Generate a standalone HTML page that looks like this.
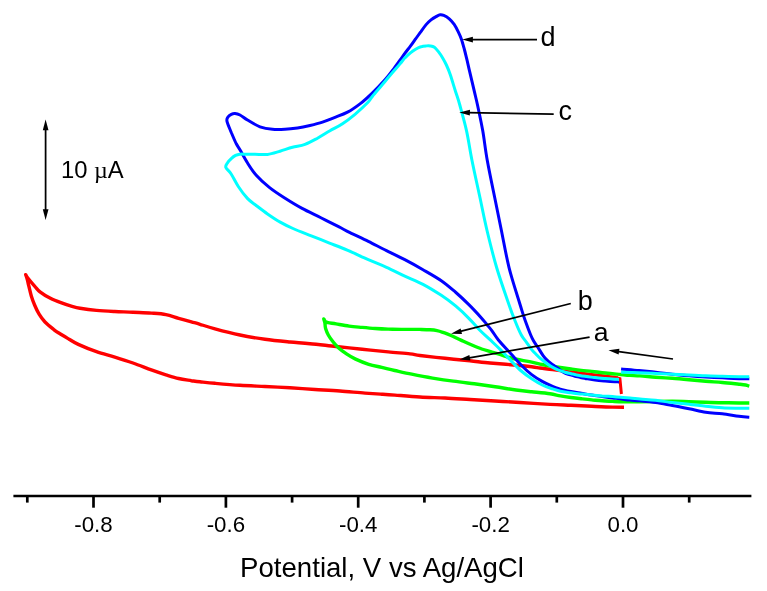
<!DOCTYPE html>
<html><head><meta charset="utf-8"><title>CV</title>
<style>
html,body{margin:0;padding:0;background:#fff;}
body{width:767px;height:591px;overflow:hidden;font-family:"Liberation Sans",sans-serif;}
svg{display:block;will-change:transform;}
svg text{font-family:"Liberation Sans",sans-serif;fill:#000;}
</style></head><body>
<svg width="767" height="591" viewBox="0 0 767 591">
<rect width="767" height="591" fill="#fff"/>
<path d="M624.0 407.2C622.1 407.2 618.0 407.2 612.6 407.1C607.2 407.0 598.7 406.6 591.7 406.3C584.8 406.0 577.9 405.6 570.9 405.3C563.9 405.0 558.5 404.9 550.0 404.4C541.5 403.9 529.2 403.1 520.0 402.5C510.8 401.9 503.3 401.5 495.0 401.0C486.7 400.5 478.3 400.0 470.0 399.5C461.7 399.0 453.3 398.4 445.0 398.0C436.7 397.6 428.3 397.5 420.0 397.0C411.7 396.5 401.4 395.6 395.0 395.1C388.6 394.6 386.8 394.5 381.8 394.2C376.8 393.9 372.0 393.6 365.0 393.1C358.0 392.6 348.3 391.6 340.0 391.0C331.7 390.4 323.3 390.0 315.0 389.5C306.7 389.0 298.3 388.3 290.0 387.8C281.7 387.3 273.3 386.9 265.0 386.5C256.7 386.1 248.3 385.8 240.0 385.3C231.7 384.8 221.7 383.9 215.0 383.3C208.3 382.7 203.9 382.2 200.0 381.8C196.1 381.4 195.0 381.2 191.4 380.7C187.8 380.1 182.8 379.5 178.6 378.5C174.3 377.5 170.4 376.2 165.9 374.8C161.4 373.4 156.8 371.9 151.3 369.9C145.8 367.9 139.1 365.1 133.0 363.0C126.9 360.9 120.9 359.0 114.8 357.1C108.7 355.2 102.6 353.8 96.5 351.7C90.4 349.6 82.9 346.5 78.3 344.4C73.7 342.3 72.1 341.0 69.1 339.2C66.0 337.4 62.5 335.4 60.0 333.8C57.5 332.2 56.6 331.8 54.1 329.8C51.6 327.8 47.5 324.6 45.0 322.0C42.5 319.4 40.8 317.0 39.1 314.2C37.4 311.4 35.9 308.1 34.6 305.0C33.3 301.9 32.3 299.1 31.3 295.9C30.3 292.6 29.4 288.2 28.7 285.5C28.0 282.8 27.8 281.3 27.3 279.5C26.8 277.7 26.0 275.5 25.7 274.7C26.0 275.2 26.1 275.9 27.6 277.8C29.1 279.7 32.5 283.8 34.6 286.1C36.7 288.4 37.4 289.8 40.0 291.8C42.6 293.8 46.9 296.5 50.4 298.3C53.9 300.1 57.4 301.4 60.9 302.7C64.4 304.0 68.1 305.3 71.3 306.2C74.5 307.1 75.8 307.6 80.0 308.3C84.2 309.0 90.7 309.9 96.5 310.4C102.3 310.9 108.7 311.2 114.8 311.5C120.9 311.8 126.9 311.9 133.0 312.2C139.1 312.5 145.8 312.7 151.3 313.1C156.8 313.5 161.4 313.7 165.9 314.6C170.4 315.5 174.3 317.1 178.6 318.3C182.8 319.5 187.8 320.9 191.4 321.9C195.0 322.9 196.1 323.1 200.0 324.3C203.9 325.5 208.3 327.0 215.0 328.8C221.7 330.6 231.7 333.2 240.0 335.0C248.3 336.8 256.7 338.1 265.0 339.3C273.3 340.5 282.5 341.3 290.0 342.0C297.5 342.7 302.3 342.9 310.0 343.7C317.7 344.4 327.4 345.6 336.1 346.5C344.8 347.4 353.5 348.4 362.2 349.3C370.9 350.2 380.2 351.1 388.2 351.9C396.2 352.7 404.7 353.3 410.0 353.9C415.3 354.5 414.2 354.8 420.0 355.5C425.8 356.2 436.7 357.4 445.0 358.3C453.3 359.2 462.5 360.0 470.0 360.8C477.5 361.6 483.2 362.4 490.0 363.0C496.8 363.6 503.9 364.1 510.9 364.7C517.9 365.3 526.9 366.2 531.7 366.8C536.6 367.4 536.5 367.5 540.0 368.0C543.5 368.5 547.5 368.9 552.6 369.6C557.8 370.3 564.4 371.2 570.9 372.0C577.4 372.8 584.8 373.7 591.7 374.6C598.7 375.5 608.2 376.7 612.6 377.3C617.0 377.9 616.9 377.9 617.8 378.0" stroke="#ff0000" stroke-width="3.4" fill="none" stroke-linejoin="round" stroke-miterlimit="6" stroke-linecap="butt"/>
<path d="M616.5 377.8 L619.9 378.6 L621.4 394" stroke="#ff0000" stroke-width="3.0" fill="none" stroke-linejoin="miter"/>
<path d="M749.3 403.0C747.6 403.0 743.5 403.1 739.0 403.0C734.5 402.9 727.8 402.8 722.3 402.7C716.8 402.6 711.2 402.4 705.7 402.2C700.2 402.0 694.6 401.8 689.0 401.7C683.4 401.6 680.5 401.3 672.3 401.3C664.1 401.3 648.2 401.6 640.0 401.7C631.8 401.8 627.6 401.9 623.0 401.8C618.4 401.8 616.1 401.6 612.6 401.4C609.1 401.2 605.7 401.1 602.2 400.8C598.7 400.6 595.2 400.2 591.7 399.9C588.2 399.6 584.8 399.2 581.3 398.8C577.8 398.4 574.4 398.0 570.9 397.5C567.4 397.0 563.9 396.5 560.4 395.9C556.9 395.3 554.8 394.5 550.0 393.8C545.2 393.1 537.4 392.4 531.7 391.8C526.0 391.2 522.1 390.8 516.0 390.0C509.9 389.2 502.1 387.8 495.2 386.8C488.2 385.8 481.3 384.8 474.3 383.8C467.3 382.9 460.3 382.1 453.4 381.1C446.4 380.2 439.6 379.2 432.6 378.1C425.7 377.0 418.0 375.5 411.7 374.2C405.4 372.9 399.7 371.6 394.7 370.5C389.7 369.4 386.0 368.4 381.7 367.4C377.4 366.4 373.0 365.7 368.7 364.3C364.4 362.9 359.3 360.8 355.6 359.1C351.9 357.4 349.3 355.8 346.5 353.9C343.7 352.0 341.0 350.1 338.7 348.0C336.4 345.9 334.5 343.7 332.8 341.5C331.1 339.3 329.5 337.2 328.3 335.0C327.1 332.8 326.2 330.5 325.6 328.5C325.0 326.5 325.2 324.6 324.9 323.0C324.6 321.4 324.0 319.7 323.8 319.0C324.1 319.4 324.6 321.0 325.3 321.6C326.0 322.2 326.2 322.2 328.0 322.6C329.8 323.0 332.6 323.3 336.1 323.9C339.6 324.5 344.8 325.5 349.1 326.1C353.5 326.7 357.9 327.0 362.2 327.4C366.5 327.8 370.9 328.2 375.2 328.5C379.5 328.8 383.8 329.0 388.2 329.1C392.6 329.2 397.7 329.3 401.3 329.4C404.9 329.4 406.9 329.4 410.0 329.4C413.1 329.4 416.7 329.3 420.0 329.4C423.3 329.5 427.2 329.6 430.0 329.8C432.8 330.0 434.8 330.2 437.0 330.6C439.2 331.0 440.8 331.6 443.0 332.4C445.2 333.2 447.4 333.9 450.4 335.2C453.4 336.5 457.4 338.5 460.9 340.1C464.4 341.7 467.8 343.3 471.3 344.8C474.8 346.3 478.2 347.8 481.7 349.0C485.2 350.2 488.7 351.1 492.2 352.2C495.7 353.2 499.5 354.3 502.6 355.3C505.7 356.3 507.8 357.2 510.9 358.0C514.0 358.8 517.8 359.5 521.3 360.2C524.8 360.9 528.2 361.4 531.7 362.1C535.2 362.8 538.7 363.8 542.2 364.5C545.7 365.2 549.6 365.8 552.6 366.3C555.6 366.8 557.4 367.1 560.4 367.5C563.4 367.9 567.4 368.5 570.9 369.0C574.4 369.5 577.8 370.0 581.3 370.4C584.8 370.8 588.2 371.0 591.7 371.4C595.2 371.8 598.7 372.3 602.2 372.7C605.7 373.1 609.5 373.5 612.6 373.8C615.7 374.1 618.0 374.2 620.9 374.5C623.8 374.8 626.8 375.2 630.0 375.4C633.2 375.6 635.7 375.6 640.0 375.9C644.3 376.2 650.3 376.8 655.7 377.2C661.1 377.6 666.8 377.9 672.3 378.3C677.8 378.7 683.4 379.2 689.0 379.7C694.6 380.2 700.2 380.7 705.7 381.2C711.2 381.7 716.8 382.0 722.3 382.5C727.8 383.0 735.1 383.8 739.0 384.2C742.9 384.6 744.0 384.7 745.7 385.0C747.4 385.3 748.7 386.0 749.3 386.2" stroke="#00ff00" stroke-width="3.4" fill="none" stroke-linejoin="round" stroke-miterlimit="6" stroke-linecap="butt"/>
<path d="M749.3 417.2C747.6 417.1 743.5 416.9 739.0 416.3C734.5 415.7 727.8 414.5 722.3 413.8C716.8 413.1 711.2 413.1 705.7 412.2C700.2 411.3 694.6 409.8 689.0 408.7C683.4 407.6 677.8 406.5 672.3 405.5C666.8 404.5 661.1 403.3 655.7 402.5C650.3 401.7 644.3 401.2 640.0 400.8C635.7 400.4 632.8 400.4 630.0 400.1C627.2 399.8 625.9 399.6 623.0 399.2C620.1 398.8 616.1 398.4 612.6 398.0C609.1 397.6 605.7 397.1 602.2 396.6C598.7 396.1 595.2 395.7 591.7 395.1C588.2 394.6 584.8 393.9 581.3 393.3C577.8 392.7 574.4 392.2 570.9 391.5C567.4 390.8 563.4 390.0 560.4 389.1C557.4 388.2 555.6 387.7 552.6 386.4C549.6 385.1 545.7 383.4 542.2 381.4C538.7 379.4 535.2 377.3 531.7 374.6C528.2 371.9 524.8 368.7 521.3 365.2C517.8 361.7 514.7 358.0 510.9 353.8C507.1 349.6 501.5 343.8 498.4 340.0C495.3 336.2 494.1 333.7 492.2 331.1C490.3 328.5 488.7 326.8 486.9 324.6C485.1 322.4 484.4 321.3 481.4 317.9C478.3 314.5 472.9 308.6 468.6 304.4C464.4 300.2 460.4 296.4 455.9 292.5C451.3 288.6 446.8 284.5 441.3 280.7C435.8 276.9 429.1 273.2 423.0 269.7C416.9 266.2 410.9 262.9 404.8 259.7C398.7 256.5 392.6 253.6 386.5 250.6C380.4 247.6 374.4 244.4 368.3 241.4C362.2 238.4 354.9 235.1 350.0 232.7C345.1 230.2 343.5 229.2 338.6 226.7C333.7 224.2 326.5 220.6 320.4 217.5C314.3 214.4 308.2 211.7 302.1 208.4C296.0 205.1 289.4 201.0 283.9 197.5C278.4 194.0 273.9 191.1 269.3 187.4C264.7 183.8 260.1 179.7 256.5 175.6C252.8 171.5 250.1 167.1 247.4 162.8C244.7 158.5 241.9 153.2 240.1 150.0C238.2 146.8 237.8 146.7 236.3 143.8C234.8 140.9 232.9 136.2 231.3 132.5C229.8 128.8 227.6 123.9 227.0 121.3C226.4 118.7 227.3 118.2 228.0 117.0C228.7 115.8 230.1 114.9 231.3 114.3C232.5 113.7 233.6 113.4 235.0 113.5C236.4 113.6 237.9 113.9 240.0 115.0C242.1 116.1 244.2 118.0 247.5 120.0C250.8 122.0 255.8 125.2 260.0 126.8C264.2 128.3 268.3 128.9 272.5 129.3C276.7 129.7 280.8 129.5 285.0 129.3C289.2 129.1 293.3 128.6 297.5 128.0C301.7 127.4 305.8 126.5 310.0 125.5C314.2 124.5 318.3 123.5 322.5 122.1C326.7 120.7 330.8 118.9 335.0 117.3C339.2 115.7 343.3 114.4 347.5 112.2C351.7 110.0 355.8 107.1 360.0 103.9C364.2 100.7 368.3 96.8 372.5 92.8C376.7 88.8 381.7 83.5 385.0 79.8C388.3 76.1 390.0 73.8 392.5 70.5C395.0 67.2 397.9 63.1 400.0 60.2C402.1 57.3 403.5 55.2 405.2 52.9C406.9 50.6 408.7 48.5 410.4 46.2C412.1 43.9 413.9 41.3 415.6 38.9C417.4 36.5 419.1 34.0 420.9 31.6C422.6 29.2 424.4 26.6 426.1 24.6C427.8 22.6 429.6 21.1 431.3 19.7C433.0 18.3 435.0 17.2 436.5 16.4C438.0 15.6 439.0 15.0 440.2 14.8C441.4 14.6 442.3 14.8 443.8 15.4C445.3 16.0 447.3 17.1 449.0 18.6C450.7 20.1 452.6 22.1 454.2 24.3C455.8 26.6 457.2 29.6 458.4 32.1C459.6 34.6 460.5 36.5 461.5 39.4C462.5 42.3 463.5 46.2 464.4 49.5C465.3 52.8 465.9 55.6 466.8 59.2C467.7 62.8 468.2 65.5 469.5 70.9C470.8 76.3 473.1 86.0 474.4 91.7C475.7 97.4 476.1 98.4 477.5 105.0C478.9 111.6 481.2 121.9 482.8 131.1C484.4 140.3 485.2 148.9 487.2 160.0C489.2 171.1 492.3 185.8 494.7 197.5C497.1 209.2 498.9 218.3 501.3 230.0C503.7 241.7 506.0 255.3 509.1 267.8C512.2 280.3 517.6 296.3 520.2 305.0C522.9 313.7 523.2 315.0 525.0 320.0C526.8 325.0 529.2 331.4 530.7 335.0C532.2 338.6 532.6 339.2 533.8 341.3C535.0 343.4 536.5 345.1 538.0 347.5C539.5 349.9 541.6 353.5 543.1 355.6C544.6 357.7 545.6 358.7 546.8 359.9C548.0 361.1 549.1 362.0 550.4 363.0C551.7 364.0 553.3 365.1 554.6 366.0C555.9 366.9 556.8 367.4 558.0 368.3C559.2 369.2 560.6 370.3 561.9 371.2C563.2 372.1 564.4 372.9 566.0 373.5C567.6 374.1 569.8 374.7 571.3 375.1C572.8 375.6 573.5 375.8 575.0 376.2C576.5 376.6 578.3 376.9 580.0 377.3C581.7 377.7 582.5 377.9 585.0 378.4C587.5 378.8 591.7 379.6 595.0 380.0C598.3 380.4 601.7 380.7 605.0 381.0C608.3 381.3 612.7 381.6 615.0 381.7C617.3 381.8 618.3 381.9 619.0 381.9" stroke="#0000ff" stroke-width="3.0" fill="none" stroke-linejoin="round" stroke-miterlimit="6" stroke-linecap="butt"/>
<path d="M621.1 368.9C624.1 369.2 633.2 369.9 639.0 370.5C644.8 371.1 650.2 371.6 655.7 372.2C661.2 372.8 666.8 373.6 672.3 374.2C677.8 374.8 683.4 375.3 689.0 375.8C694.6 376.3 700.2 376.7 705.7 377.0C711.2 377.3 716.8 377.5 722.3 377.8C727.8 378.1 734.5 378.5 739.0 378.7C743.5 378.9 747.6 378.8 749.3 378.8" stroke="#0000ff" stroke-width="3.0" fill="none" stroke-linejoin="round" stroke-linecap="butt"/>
<path d="M749.3 408.3C747.6 408.3 743.5 408.4 739.0 408.3C734.5 408.2 727.8 408.2 722.3 407.8C716.8 407.4 711.2 406.8 705.7 406.2C700.2 405.6 694.6 404.8 689.0 404.2C683.4 403.6 677.8 403.1 672.3 402.5C666.8 401.9 661.1 400.9 655.7 400.3C650.3 399.7 644.3 399.4 640.0 399.0C635.7 398.6 632.8 398.2 630.0 398.0C627.2 397.8 625.9 397.7 623.0 397.5C620.1 397.3 616.1 396.9 612.6 396.6C609.1 396.3 605.7 396.1 602.2 395.9C598.7 395.6 595.2 395.4 591.7 395.1C588.2 394.8 584.8 394.4 581.3 394.0C577.8 393.6 574.4 393.3 570.9 392.8C567.4 392.3 563.4 391.9 560.4 391.2C557.4 390.5 555.6 389.9 552.6 388.9C549.6 387.9 545.7 386.7 542.2 385.0C538.7 383.3 535.2 381.1 531.7 378.8C528.2 376.5 524.8 374.0 521.3 371.0C517.8 368.0 514.4 364.2 510.9 360.6C507.4 357.0 503.9 353.1 500.4 349.6C496.9 346.1 493.5 343.0 490.0 339.7C486.5 336.4 483.2 333.6 479.6 330.0C476.0 326.4 472.6 322.1 468.6 318.1C464.7 314.1 460.4 310.0 455.9 306.2C451.3 302.4 446.8 298.9 441.3 295.3C435.8 291.7 429.1 287.5 423.0 284.3C416.9 281.1 410.9 278.9 404.8 276.1C398.7 273.3 392.6 270.0 386.5 267.3C380.4 264.6 374.8 262.5 368.3 259.7C361.9 256.9 354.3 253.2 347.8 250.4C341.3 247.6 335.6 245.5 329.5 243.1C323.4 240.7 317.4 238.2 311.3 235.8C305.2 233.4 298.2 230.8 293.0 228.5C287.8 226.2 284.4 224.5 280.2 222.1C275.9 219.7 271.4 216.6 267.5 213.9C263.6 211.2 259.9 208.3 256.5 205.7C253.2 203.1 250.4 201.6 247.4 198.4C244.4 195.2 241.0 190.6 238.3 186.5C235.6 182.4 233.1 176.9 231.0 173.7C228.9 170.5 226.3 169.2 225.8 167.3C225.3 165.4 226.9 163.9 227.8 162.4C228.8 160.9 230.2 159.5 231.5 158.3C232.8 157.1 234.2 156.1 235.6 155.4C237.0 154.7 238.1 154.4 239.8 154.2C241.6 154.0 243.6 154.2 246.1 154.2C248.6 154.2 251.4 154.3 255.0 154.3C258.6 154.3 263.3 154.9 267.5 154.4C271.7 153.9 275.8 152.4 280.0 151.2C284.2 150.0 288.3 148.4 292.5 147.3C296.7 146.2 300.8 145.9 305.0 144.4C309.2 142.9 313.3 140.5 317.5 138.2C321.7 135.9 325.8 133.2 330.0 130.8C334.2 128.4 338.3 126.5 342.5 123.7C346.7 121.0 350.8 117.8 355.0 114.3C359.2 110.8 364.6 105.8 367.5 102.8C370.4 99.8 369.6 99.8 372.5 96.2C375.4 92.7 381.7 85.5 385.0 81.5C388.3 77.5 390.0 75.4 392.5 72.5C395.0 69.6 397.9 66.4 400.0 63.9C402.1 61.4 403.5 59.5 405.2 57.6C406.9 55.8 408.7 54.2 410.4 52.8C412.1 51.4 413.9 50.2 415.6 49.2C417.4 48.2 419.1 47.3 420.9 46.8C422.6 46.2 424.6 46.0 426.1 45.9C427.7 45.8 428.8 45.7 430.2 45.9C431.6 46.1 433.0 46.2 434.4 47.2C435.8 48.2 437.2 50.1 438.6 51.9C440.0 53.7 441.5 56.0 442.8 58.2C444.1 60.4 445.1 62.2 446.4 65.0C447.7 67.8 448.9 70.5 450.4 75.0C451.9 79.5 454.0 86.7 455.6 91.7C457.2 96.7 458.0 98.4 459.8 105.0C461.6 111.6 464.6 121.9 466.6 131.1C468.6 140.3 469.7 148.9 471.9 160.0C474.1 171.1 477.5 186.1 480.0 197.8C482.5 209.5 484.1 218.3 486.9 230.0C489.7 241.7 493.0 255.3 496.7 267.8C500.4 280.3 506.1 296.3 509.1 305.0C512.1 313.7 512.7 315.0 514.7 320.0C516.7 325.0 519.3 331.3 521.3 335.0C523.3 338.7 524.8 339.9 526.5 342.3C528.2 344.7 530.1 347.6 531.7 349.6C533.3 351.6 534.9 353.1 536.3 354.5C537.7 355.9 538.5 356.8 540.0 358.1C541.5 359.4 543.5 361.0 545.2 362.3C546.9 363.6 548.7 364.9 550.4 366.0C552.1 367.1 553.9 368.0 555.6 368.8C557.4 369.6 559.1 370.3 560.9 370.9C562.6 371.5 564.4 372.0 566.1 372.5C567.8 373.0 569.6 373.3 571.3 373.7C573.0 374.1 574.2 374.5 576.5 374.9C578.8 375.3 581.9 375.9 585.0 376.3C588.1 376.8 591.7 377.2 595.0 377.6C598.3 378.0 601.7 378.3 605.0 378.6C608.3 378.9 612.7 379.1 615.0 379.2C617.3 379.3 618.3 379.4 619.0 379.4" stroke="#00ffff" stroke-width="3.0" fill="none" stroke-linejoin="round" stroke-miterlimit="6" stroke-linecap="butt"/>
<path d="M621.1 372.2C624.1 372.3 633.2 372.6 639.0 372.8C644.8 373.0 650.2 373.3 655.7 373.5C661.2 373.7 666.8 373.9 672.3 374.2C677.8 374.4 683.4 374.7 689.0 375.0C694.6 375.3 700.2 375.6 705.7 375.8C711.2 376.0 716.8 376.2 722.3 376.3C727.8 376.4 734.5 376.6 739.0 376.7C743.5 376.8 747.6 376.7 749.3 376.7" stroke="#00ffff" stroke-width="3.0" fill="none" stroke-linejoin="round" stroke-linecap="butt"/>
<line x1="13.4" y1="495.95" x2="751.4" y2="495.95" stroke="#000" stroke-width="2.6"/>
<line x1="27.3" y1="495" x2="27.3" y2="502.6" stroke="#000" stroke-width="2.7"/>
<line x1="93.5" y1="495" x2="93.5" y2="507.7" stroke="#000" stroke-width="2.7"/>
<text x="93.5" y="531.8" font-size="22.3" text-anchor="middle">-0.8</text>
<line x1="159.7" y1="495" x2="159.7" y2="502.6" stroke="#000" stroke-width="2.7"/>
<line x1="225.9" y1="495" x2="225.9" y2="507.7" stroke="#000" stroke-width="2.7"/>
<text x="225.9" y="531.8" font-size="22.3" text-anchor="middle">-0.6</text>
<line x1="292.1" y1="495" x2="292.1" y2="502.6" stroke="#000" stroke-width="2.7"/>
<line x1="358.2" y1="495" x2="358.2" y2="507.7" stroke="#000" stroke-width="2.7"/>
<text x="358.2" y="531.8" font-size="22.3" text-anchor="middle">-0.4</text>
<line x1="424.4" y1="495" x2="424.4" y2="502.6" stroke="#000" stroke-width="2.7"/>
<line x1="490.6" y1="495" x2="490.6" y2="507.7" stroke="#000" stroke-width="2.7"/>
<text x="490.6" y="531.8" font-size="22.3" text-anchor="middle">-0.2</text>
<line x1="556.8" y1="495" x2="556.8" y2="502.6" stroke="#000" stroke-width="2.7"/>
<line x1="623.0" y1="495" x2="623.0" y2="507.7" stroke="#000" stroke-width="2.7"/>
<text x="623.0" y="531.8" font-size="22.3" text-anchor="middle">0.0</text>
<line x1="689.2" y1="495" x2="689.2" y2="502.6" stroke="#000" stroke-width="2.7"/>
<text x="382" y="577.2" font-size="27.6" text-anchor="middle">Potential, V vs Ag/AgCl</text>
<line x1="45.6" y1="170.0" x2="45.6" y2="128.2" stroke="#000" stroke-width="1.75"/><polygon points="45.6,119.6 48.5,130.2 42.8,130.2" fill="#000"/>
<line x1="45.6" y1="170.0" x2="45.6" y2="211.3" stroke="#000" stroke-width="1.75"/><polygon points="45.6,219.9 42.8,209.3 48.5,209.3" fill="#000"/>
<text x="60.9" y="177.8" font-size="23.8">10 <tspan font-family="Liberation Serif" font-size="24">µ</tspan>A</text>
<line x1="537.0" y1="39.6" x2="470.9" y2="39.6" stroke="#000" stroke-width="1.75"/><polygon points="462.3,39.6 472.9,36.8 472.9,42.5" fill="#000"/>
<line x1="553.7" y1="114.2" x2="467.9" y2="112.6" stroke="#000" stroke-width="1.75"/><polygon points="459.3,112.4 470.0,109.8 469.8,115.5" fill="#000"/>
<line x1="570.8" y1="303.5" x2="459.3" y2="331.7" stroke="#000" stroke-width="1.75"/><polygon points="451.0,333.8 460.6,328.4 462.0,334.0" fill="#000"/>
<line x1="589.6" y1="337.1" x2="467.9" y2="358.1" stroke="#000" stroke-width="1.75"/><polygon points="459.4,359.6 469.4,355.0 470.3,360.6" fill="#000"/>
<line x1="673.0" y1="359.0" x2="617.0" y2="351.4" stroke="#000" stroke-width="1.75"/><polygon points="608.5,350.2 619.4,348.8 618.6,354.5" fill="#000"/>
<text x="540.5" y="45.7" font-size="27">d</text>
<text x="558.5" y="120.1" font-size="27">c</text>
<text x="577.8" y="309.6" font-size="27">b</text>
<text x="593.8" y="341.1" font-size="26.6">a</text>
</svg>
</body></html>
